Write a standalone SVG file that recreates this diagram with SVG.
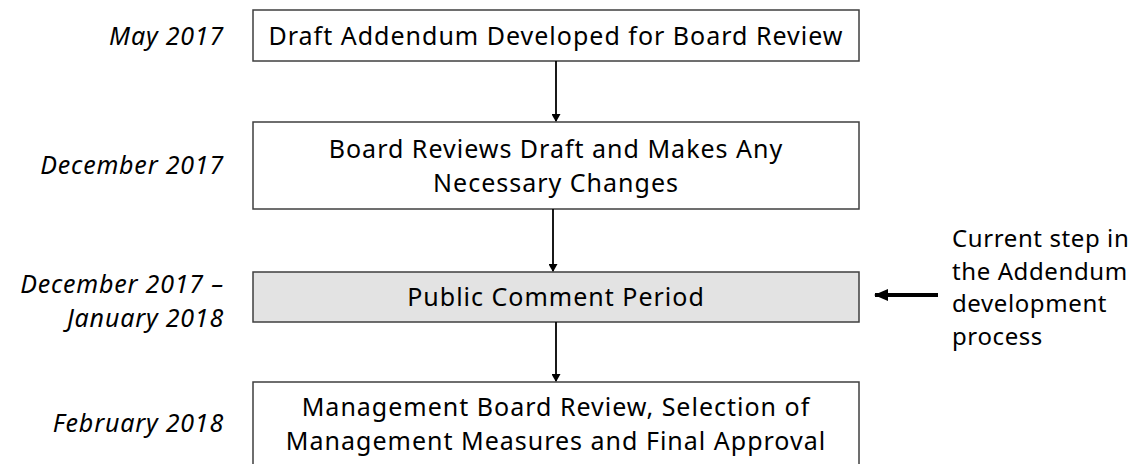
<svg xmlns="http://www.w3.org/2000/svg" width="1148" height="464" viewBox="0 0 1148 464">
<defs>
<marker id="ah" markerWidth="8" markerHeight="9" refX="7" refY="4.5" orient="auto" markerUnits="userSpaceOnUse">
<path d="M0,0 L8,4.5 L0,9 Z" fill="#000"/>
</marker>
<marker id="ah2" markerWidth="14" markerHeight="12" refX="13" refY="6" orient="auto" markerUnits="userSpaceOnUse">
<path d="M0,0 L14,6 L0,12 Z" fill="#000"/>
</marker>
<style>
.box{fill:#fff;stroke:#3f3f3f;stroke-width:1.5}
.cur{fill:#e3e3e3;stroke:#3f3f3f;stroke-width:1.5}
.t{font-family:"Noto Sans","Open Sans",sans-serif;font-size:25px;letter-spacing:1px;fill:#000;text-anchor:middle}
.d{font-family:"Noto Sans","Open Sans",sans-serif;font-size:25px;letter-spacing:0.8px;font-style:italic;fill:#000;text-anchor:end}
.n{font-family:"Noto Sans","Open Sans",sans-serif;font-size:24px;letter-spacing:0.6px;fill:#000}
.c{stroke:#000;stroke-width:1.8;fill:none}
</style>
</defs>
<rect width="1148" height="464" fill="#fff"/>
<g id="dates">
<text class="d" x="224" y="45">May 2017</text>
<text class="d" x="224" y="174">December 2017</text>
<text class="d" x="224" y="293">December 2017 –</text>
<text class="d" x="224" y="327">January 2018</text>
<text class="d" x="224" y="432">February 2018</text>
</g>
<g id="step1">
<rect class="box" x="253" y="10" width="606" height="51"/>
<text class="t" x="556" y="44.5">Draft Addendum Developed for Board Review</text>
</g>
<g id="step2">
<rect class="box" x="253" y="122" width="606" height="87"/>
<text class="t" x="556" y="158">Board Reviews Draft and Makes Any</text>
<text class="t" x="556" y="192">Necessary Changes</text>
</g>
<g id="step3">
<rect class="cur" x="253" y="272" width="606" height="50"/>
<text class="t" x="556" y="306">Public Comment Period</text>
</g>
<g id="step4">
<rect class="box" x="253" y="382" width="606" height="100"/>
<text class="t" x="556" y="416">Management Board Review, Selection of</text>
<text class="t" x="556" y="450">Management Measures and Final Approval</text>
</g>
<g id="note">
<text class="n" x="952" y="247">Current step in</text>
<text class="n" x="952" y="280">the Addendum</text>
<text class="n" x="952" y="312">development</text>
<text class="n" x="952" y="345">process</text>
</g>
<g id="connectors">
<line class="c" x1="556" y1="61" x2="556" y2="121" marker-end="url(#ah)"/>
<line class="c" x1="553" y1="209" x2="553" y2="271" marker-end="url(#ah)"/>
<line class="c" x1="556" y1="322" x2="556" y2="381" marker-end="url(#ah)"/>
<line x1="938" y1="295" x2="875" y2="295" stroke="#000" stroke-width="4" marker-end="url(#ah2)"/>
</g>
</svg>
